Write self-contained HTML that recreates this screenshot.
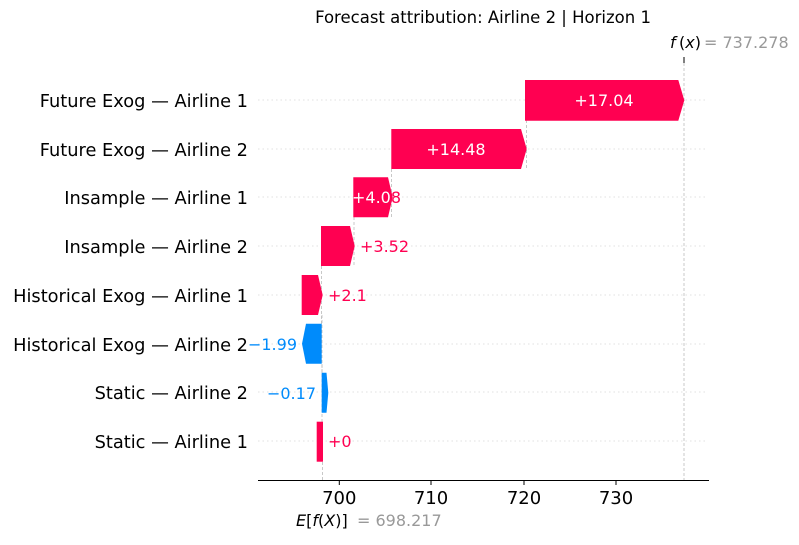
<!DOCTYPE html>
<html><head><meta charset="utf-8"><style>
html,body{margin:0;padding:0;background:#fff;}
svg text{font-family:"DejaVu Sans","Liberation Sans",sans-serif;}
</style></head><body>
<svg width="799" height="540" viewBox="0 0 799 540" xmlns="http://www.w3.org/2000/svg">
<defs>
<clipPath id="c3"><polygon points="353.3,177.3 388,177.3 392.7,197.3 388,217.3 353.3,217.3"/></clipPath>
</defs>
<text x="483" y="23" font-size="16.5" text-anchor="middle" fill="#000">Forecast attribution: Airline 2 | Horizon 1</text>
<text x="670" y="48" font-size="16" fill="#000" font-style="italic">f</text>
<text x="679" y="48" font-size="16" fill="#000">(<tspan font-style="italic">x</tspan>)</text>
<text x="704" y="48" font-size="16" fill="#999">= 737.278</text>
<g stroke="#e0e0e0" stroke-width="1" stroke-dasharray="1.5,3">
<line x1="258" y1="100" x2="706" y2="100"/><line x1="258" y1="149" x2="706" y2="149"/>
<line x1="258" y1="197" x2="706" y2="197"/><line x1="258" y1="246" x2="706" y2="246"/>
<line x1="258" y1="295" x2="706" y2="295"/><line x1="258" y1="344" x2="706" y2="344"/>
<line x1="258" y1="392" x2="706" y2="392"/><line x1="258" y1="441" x2="706" y2="441"/>
</g>
<g stroke="#bbb" stroke-width="0.8" stroke-dasharray="3,2" fill="none">
<line x1="684" y1="58" x2="684" y2="480"/>
<line x1="322.5" y1="462" x2="322.5" y2="480"/>
<line x1="526.5" y1="120" x2="526.5" y2="170"/>
<line x1="391.5" y1="169" x2="391.5" y2="218"/>
<line x1="354" y1="217" x2="354" y2="266"/>
<line x1="321.5" y1="266" x2="321.5" y2="324"/>
<line x1="322" y1="315" x2="322" y2="373"/>
<line x1="322" y1="364" x2="322" y2="422"/>
</g>
<line x1="684" y1="57" x2="684" y2="63" stroke="#000" stroke-width="1"/>
<g fill="#ff0051">
<polygon points="525,80 678.3,80 684.3,100.3 678.3,120.7 525,120.7"/>
<polygon points="391.3,129 521,129 526.7,149 521,169 391.3,169"/>
<polygon points="353.3,177.3 388,177.3 392.7,197.3 388,217.3 353.3,217.3"/>
<polygon points="321,226 350,226 354.7,246 350,266 321,266"/>
<polygon points="301.7,275 318,275 322.7,295 318,315 301.7,315"/>
<rect x="316.7" y="421.7" width="6.3" height="40"/>
</g>
<g fill="#008bfb">
<polygon points="321.7,323.7 306,323.7 302,343.7 306,363.7 321.7,363.7"/>
<polygon points="321.7,372.7 326.5,372.7 328.3,392.7 326.5,412.7 321.7,412.7"/>
</g>
<g font-size="16" fill="#fff" text-anchor="middle">
<text x="604" y="106">+17.04</text>
<text x="456" y="155">+14.48</text>
</g>
<text x="352" y="203" font-size="16" fill="#ff0051">+4.08</text>
<text x="352" y="203" font-size="16" fill="#fff" clip-path="url(#c3)">+4.08</text>
<g font-size="16" fill="#ff0051">
<text x="360" y="252">+3.52</text>
<text x="328" y="301">+2.1</text>
<text x="328" y="447">+0</text>
</g>
<g font-size="16" fill="#008bfb" text-anchor="end">
<text x="297" y="350">−1.99</text>
<text x="316" y="399">−0.17</text>
</g>
<g font-size="17.8" fill="#000" text-anchor="end">
<text x="248" y="107">Future Exog — Airline 1</text>
<text x="248" y="156">Future Exog — Airline 2</text>
<text x="248" y="204">Insample — Airline 1</text>
<text x="248" y="253">Insample — Airline 2</text>
<text x="248" y="302">Historical Exog — Airline 1</text>
<text x="248" y="351">Historical Exog — Airline 2</text>
<text x="248" y="399">Static — Airline 2</text>
<text x="248" y="448">Static — Airline 1</text>
</g>
<line x1="258" y1="480.5" x2="709" y2="480.5" stroke="#000" stroke-width="1"/>
<g stroke="#000"><line x1="339.3" y1="480" x2="339.3" y2="485"/><line x1="431" y1="480" x2="431" y2="485"/><line x1="524" y1="480" x2="524" y2="485"/><line x1="616" y1="480" x2="616" y2="485"/></g>
<g font-size="18" fill="#000" text-anchor="middle">
<text x="339.3" y="504">700</text><text x="431" y="504">710</text><text x="524" y="504">720</text><text x="616" y="504">730</text>
</g>
<text x="296" y="526" font-size="16" fill="#000"><tspan font-style="italic">E</tspan>[<tspan font-style="italic">f</tspan>(<tspan font-style="italic">X</tspan>)]</text>
<text x="357" y="526" font-size="16" fill="#999">= 698.217</text>
</svg>
</body></html>
